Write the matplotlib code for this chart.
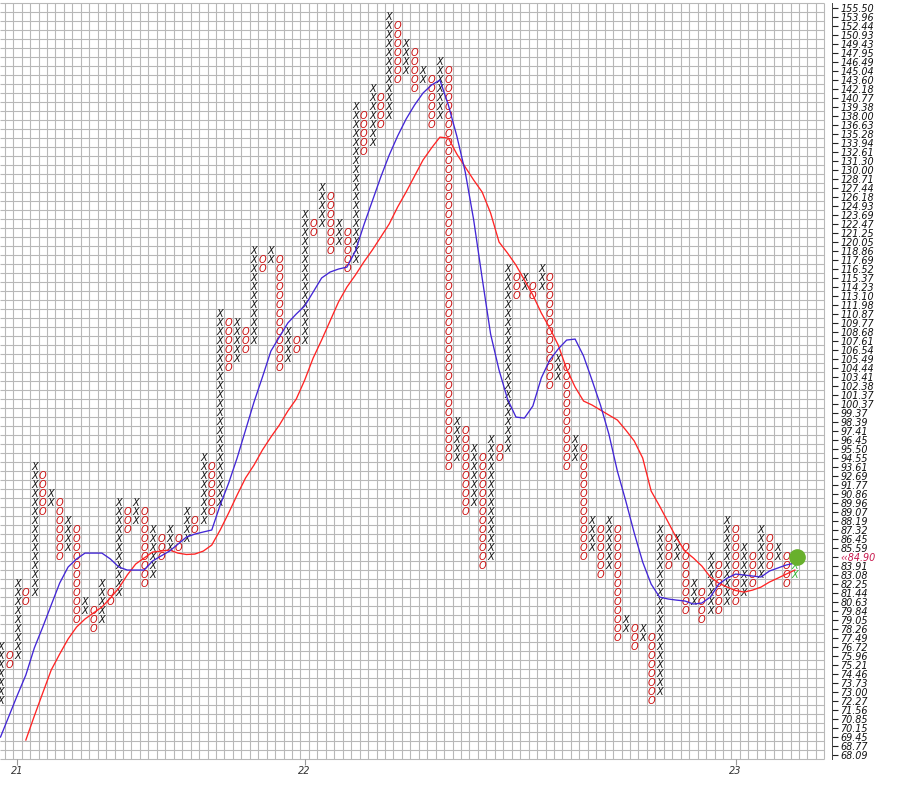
import numpy as np
import matplotlib.pyplot as plt

# ── Escala de cajas (1 %) de arriba hacia abajo ───────────────────────────────
box_levels = [
    155.50, 153.96, 152.44, 150.93, 149.43, 147.95, 146.49, 145.04, 143.60, 142.18,
    140.77, 139.38, 138.00, 136.63, 135.28, 133.94, 132.61, 131.30, 130.00, 128.71,
    127.44, 126.18, 124.93, 123.69, 122.47, 121.25, 120.05, 118.86, 117.69, 116.52,
    115.37, 114.23, 113.10, 111.98, 110.87, 109.77, 108.68, 107.61, 106.54, 105.49,
    104.44, 103.41, 102.38, 101.37, 100.37, 99.37, 98.39, 97.41, 96.45, 95.50,
    94.55, 93.61, 92.69, 91.77, 90.86, 89.96, 89.07, 88.19, 87.32, 86.45,
    85.59, 84.75, 83.91, 83.08, 82.25, 81.44, 80.63, 79.84, 79.05, 78.26,
    77.49, 76.72, 75.96, 75.21, 74.46, 73.73, 73.00, 72.27, 71.56, 70.85,
    70.15, 69.45, 68.77, 68.09,
]
last_price = 84.90

# ── Columnas P&F (X / O alternadas), caja superior e inferior ─────────────────
col_kind = "XO" * 47 + "X"
col_high = [
    76.72, 75.96, 82.25, 81.44, 93.61, 92.69, 90.86, 89.96, 88.19, 87.32,
    80.63, 79.84, 82.25, 81.44, 89.96, 89.07, 89.96, 89.07, 87.32, 86.45,
    87.32, 86.45, 89.07, 88.19, 94.55, 93.61, 110.87, 109.77, 109.77, 108.68,
    118.86, 117.69, 118.86, 117.69, 108.68, 107.61, 123.69, 122.47, 127.44, 126.18,
    122.47, 121.25, 139.38, 138.00, 142.18, 140.77, 153.96, 152.44, 149.43, 147.95,
    145.04, 143.60, 146.49, 145.04, 98.39, 97.41, 95.50, 94.55, 96.45, 95.50,
    116.52, 115.37, 115.37, 114.23, 116.52, 115.37, 105.49, 104.44, 96.45, 95.50,
    88.19, 87.32, 88.19, 87.32, 79.05, 78.26, 78.26, 77.49, 87.32, 86.45,
    86.45, 85.59, 82.25, 81.44, 84.75, 83.91, 88.19, 87.32, 85.59, 84.75,
    87.32, 86.45, 85.59, 84.75, 83.91,
]
col_low = [
    72.27, 75.21, 75.96, 80.63, 81.44, 89.07, 89.96, 84.75, 85.59, 79.05,
    79.84, 78.26, 79.05, 80.63, 81.44, 87.32, 88.19, 82.25, 83.08, 84.75,
    85.59, 85.59, 86.45, 87.32, 88.19, 89.07, 89.96, 104.44, 105.49, 106.54,
    107.61, 116.52, 117.69, 104.44, 105.49, 106.54, 107.61, 121.25, 122.47, 118.86,
    120.05, 116.52, 117.69, 132.61, 133.94, 136.63, 138.00, 143.60, 145.04, 142.18,
    143.60, 136.63, 138.00, 93.61, 94.55, 89.07, 89.96, 83.91, 84.75, 94.55,
    95.50, 113.10, 114.23, 113.10, 114.23, 102.38, 103.41, 93.61, 94.55, 84.75,
    85.59, 83.08, 83.91, 77.49, 78.26, 76.72, 77.49, 72.27, 73.00, 83.91,
    84.75, 79.84, 80.63, 79.05, 79.84, 79.84, 80.63, 80.63, 81.44, 82.25,
    83.08, 83.91, 84.75, 82.25, 83.08,
]

# ── Medias móviles (precio por columna) ───────────────────────────────────────
ma_fast = [
    69.44, 71.07, 72.74, 74.37, 76.62, 78.42, 80.35, 82.32, 83.80, 84.55,
    85.10, 85.10, 85.10, 84.55, 83.80, 83.52, 83.52, 83.52, 84.36, 84.83,
    85.29, 85.95, 86.62, 86.91, 87.11, 87.30, 89.75, 91.95, 94.53, 97.50,
    100.57, 103.39, 106.40, 108.06, 109.75, 110.85, 111.84, 113.57, 115.35, 116.11,
    116.50, 116.75, 118.84, 122.31, 125.59, 128.97, 132.14, 134.96, 137.51, 139.66,
    141.52, 142.78, 143.57, 139.66, 134.96, 129.69, 122.98, 115.35, 108.42, 104.19,
    100.90, 98.91, 98.80, 100.13, 103.28, 105.35, 106.64, 107.70, 107.82, 105.82,
    103.04, 100.24, 97.06, 93.18, 90.14, 87.01, 84.26, 82.23, 81.06, 80.89,
    80.79, 80.71, 80.44, 80.53, 81.06, 82.23, 82.78, 83.15, 83.06, 82.97,
    82.88, 83.43, 83.71, 83.99, 84.17,
]
ma_slow = [
    np.nan, np.nan, np.nan, 69.21, 71.07, 72.91, 74.78, 76.11, 77.39, 78.42,
    79.12, 79.65, 80.17, 80.97, 81.87, 83.06, 84.08, 84.64, 85.20, 85.29,
    85.39, 85.10, 84.97, 85.01, 85.29, 85.86, 87.30, 88.96, 90.74, 92.47,
    93.80, 95.38, 96.75, 98.04, 99.57, 100.90, 103.04, 105.58, 107.70, 109.99,
    112.33, 114.21, 115.73, 117.41, 118.97, 120.69, 122.45, 124.77, 126.85, 129.11,
    131.42, 133.17, 134.79, 134.65, 132.30, 130.40, 128.54, 126.85, 123.94, 120.03,
    118.58, 117.01, 115.10, 113.20, 110.97, 109.14, 107.11, 104.31, 102.25, 100.68,
    100.24, 99.68, 99.13, 98.59, 97.50, 96.33, 94.53, 91.14, 89.64, 88.08,
    86.53, 85.29, 84.64, 83.89, 82.88, 82.32, 81.96, 81.65, 81.51, 81.69,
    81.96, 82.42, 82.78, 83.15, 83.52,
]

year_ticks = [2, 36, 87]
year_labels = ["21", "22", "23"]

# ── Geometría ─────────────────────────────────────────────────────────────────
W, H = 906, 785
CELL_W = 8.45          # ancho de columna en px
X0 = 0.5               # centro de la columna 0 en px
AX_L, AX_R = 0, 832
AX_T, AX_B = 3.3, 759.3
GRID_RIGHT = 97.5

levels = np.array(box_levels)
n_lv = len(levels)
BASE = levels[-1]


def box_pos(price):
    """posición (en cajas, desde abajo) del nivel más cercano"""
    idx = int(np.argmin(np.abs(np.log(levels / price))))
    return n_lv - 1 - idx


def to_box(prices):
    return np.log(np.asarray(prices, dtype=float) / BASE) / np.log(1.01)


fig = plt.figure(figsize=(W / 100, H / 100), dpi=100)
fig.patch.set_facecolor("white")
ax = fig.add_axes([AX_L / W, 1 - AX_B / H, (AX_R - AX_L) / W, (AX_B - AX_T) / H])
xmin = (AX_L - X0) / CELL_W
xmax = (AX_R - X0) / CELL_W
ax.set_xlim(xmin, xmax)
ax.set_ylim(-0.5, n_lv - 0.5)

# ── Cuadrícula ────────────────────────────────────────────────────────────────
GRID_C = "#b8b8b8"
ax.vlines(np.arange(0.5, GRID_RIGHT + 0.01, 1.0), -0.5, n_lv - 0.5,
          colors=GRID_C, lw=0.8, zorder=1, clip_on=False)
ax.hlines(np.arange(-0.5, n_lv, 1.0), xmin, GRID_RIGHT,
          colors=GRID_C, lw=0.8, zorder=1, clip_on=False)

# ── X y O ─────────────────────────────────────────────────────────────────────
n_cols = len(col_kind)
for j, (kind, hi, lo) in enumerate(zip(col_kind, col_high, col_low)):
    b_hi, b_lo = box_pos(hi), box_pos(lo)
    if j == n_cols - 1:
        color = "#2fb52f"
    else:
        color = "#141414" if kind == "X" else "#cc1010"
    for b in range(b_lo, b_hi + 1):
        ax.text(j, b, kind, ha="center", va="center", fontsize=7.0,
                fontstyle="italic", color=color, zorder=3, clip_on=True)

# ── Medias móviles ────────────────────────────────────────────────────────────
cols = np.arange(n_cols)
ax.plot(cols, to_box(ma_slow), color="#ff2424", lw=0.95, zorder=4)
ax.plot(cols, to_box(ma_fast), color="#4226d6", lw=0.95, zorder=4)

# precio actual
ax.plot(n_cols - 1 + 0.3, box_pos(last_price), "o", ms=11,
        color="#68b02c", zorder=6, clip_on=False)

# ── Ejes ──────────────────────────────────────────────────────────────────────
for side in ["top", "left", "bottom"]:
    ax.spines[side].set_visible(False)
ax.spines["right"].set_color("#444444")
ax.spines["right"].set_linewidth(0.7)

ytick_labels = [f"{v:.2f}" for v in box_levels]
cur_idx = n_lv - 1 - box_pos(last_price)
ytick_labels[cur_idx] = f"\u2039\u2039{last_price:.2f}"
ax.yaxis.tick_right()
ax.set_yticks(np.arange(n_lv))
ax.set_yticklabels(ytick_labels[::-1])
ax.tick_params(axis="y", length=4, width=0.8, color="#222222", pad=2,
               labelsize=6.9, labelcolor="#111111")
for lbl in ax.get_yticklabels():
    lbl.set_fontstyle("italic")
    if lbl.get_text().startswith("\u2039"):
        lbl.set_color("#c8174c")

ax.set_xticks(year_ticks)
ax.set_xticklabels(year_labels)
ax.tick_params(axis="x", length=4, width=0.8, color="#999999", pad=1,
               labelsize=7, labelcolor="#333333")
for lbl in ax.get_xticklabels():
    lbl.set_fontstyle("italic")

plt.savefig("out.png", dpi=100, facecolor="white")
